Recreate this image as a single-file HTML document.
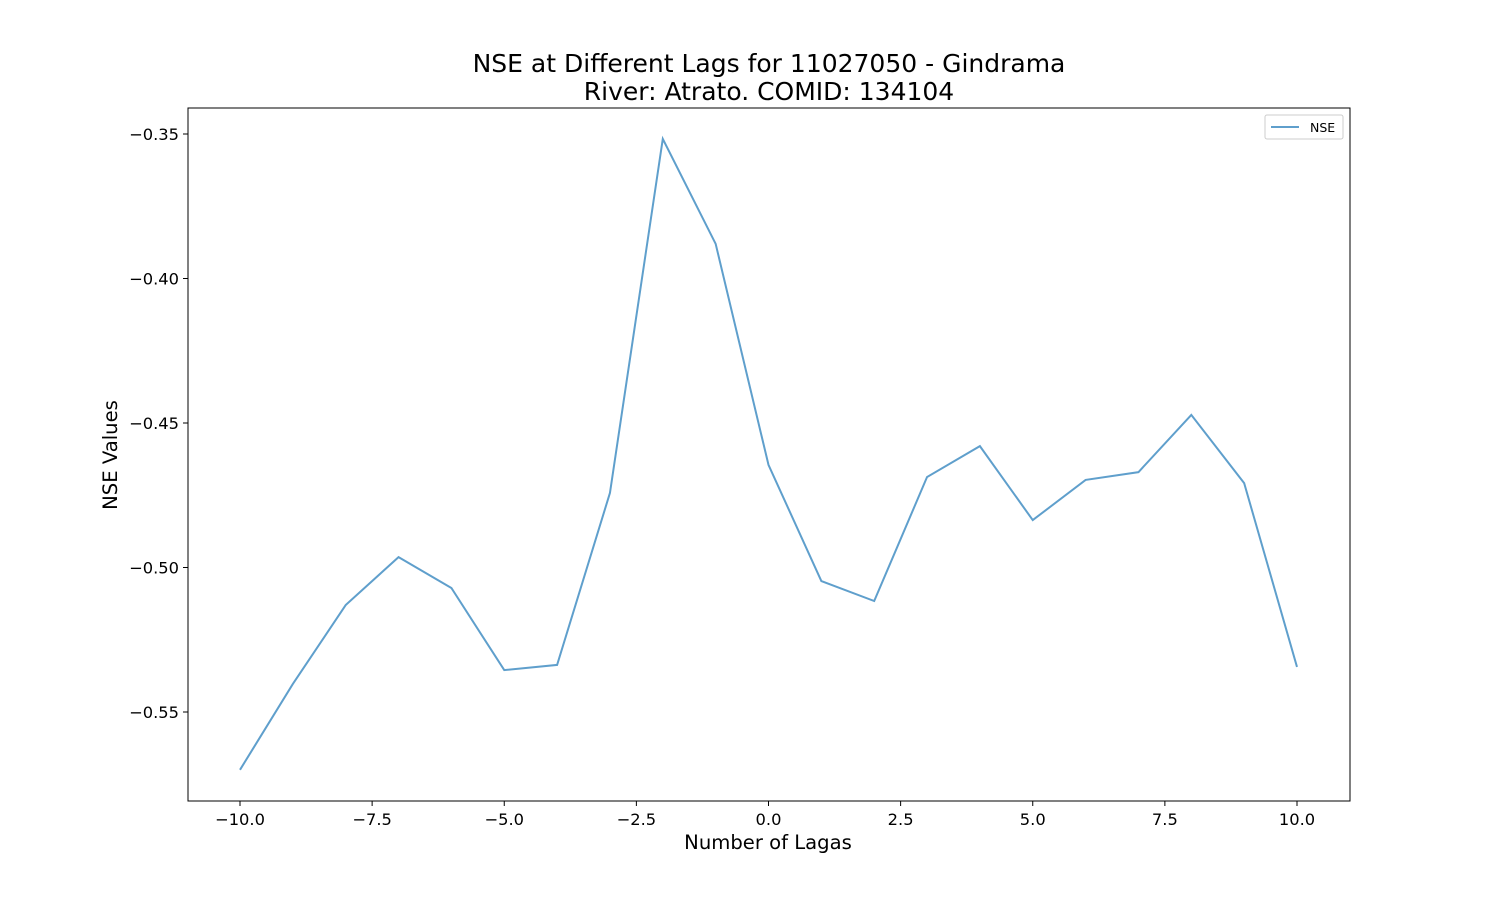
<!DOCTYPE html>
<html><head><meta charset="utf-8"><style>
body{margin:0;background:#fff;}
svg text{font-family:"DejaVu Sans","Liberation Sans",sans-serif;fill:#000;}
</style></head><body>
<svg id="chart" width="1500" height="900" xmlns="http://www.w3.org/2000/svg">
<rect width="1500" height="900" fill="#fff"/>
<text x="769" y="72" font-size="25" text-anchor="middle">NSE at Different Lags for 11027050 - Gindrama</text>
<text x="769" y="100" font-size="25" text-anchor="middle">River: Atrato. COMID: 134104</text>
<g id="plot"></g>
<text x="768" y="849" font-size="19.6" text-anchor="middle">Number of Lagas</text>
<text x="117" y="455" font-size="19.6" text-anchor="middle" transform="rotate(-90 117 455)">NSE Values</text>
<g>
<rect x="1265" y="115" width="78" height="24" fill="#fff" stroke="#ccc" rx="2"/>
<line x1="1271" y1="127" x2="1299" y2="127" stroke="#5f9fcc" stroke-width="2"/>
<text x="1310" y="132" font-size="12.5">NSE</text>
</g>
</svg>
<script>
const lags=[-10,-9,-8,-7,-6,-5,-4,-3,-2,-1,0,1,2,3,4,5,6,7,8,9,10];
const nse=[-0.570,-0.5403,-0.513,-0.4964,-0.5071,-0.5355,-0.5337,-0.4742,-0.3517,-0.388,-0.4645,-0.5047,-0.5116,-0.4687,-0.458,-0.4836,-0.4697,-0.467,-0.4472,-0.4708,-0.5344];
const xTicks=[-10,-7.5,-5,-2.5,0,2.5,5,7.5,10];
const xTickLabels=["\u221210.0","\u22127.5","\u22125.0","\u22122.5","0.0","2.5","5.0","7.5","10.0"];
const yTicks=[-0.35,-0.40,-0.45,-0.50,-0.55];
const yTickLabels=["\u22120.35","\u22120.40","\u22120.45","\u22120.50","\u22120.55"];
const L=188,R=1350,T=108,B=801;
const xs=v=>240+(v+10)*(1297-240)/20;
const ys=v=>134+(-0.35-v)*2890;
const NS="http://www.w3.org/2000/svg";
const g=document.getElementById('plot');
function mk(t,a){const e=document.createElementNS(NS,t);for(const k in a)e.setAttribute(k,a[k]);g.appendChild(e);return e;}
xTicks.forEach((v,i)=>{
 const l=mk('line',{x1:xs(v),x2:xs(v),y1:B,y2:B+5,stroke:'#000'});
 
 
 const t=mk('text',{x:xs(v),y:B+24,'font-size':16.3,'text-anchor':'middle'});t.textContent=xTickLabels[i];
 
 
});
yTicks.forEach((v,i)=>{
 const l=mk('line',{x1:L-5,x2:L,y1:ys(v),y2:ys(v),stroke:'#000'});
 
 
 const t=mk('text',{x:L-9,y:ys(v)+6,'font-size':16.3,'text-anchor':'end'});t.textContent=yTickLabels[i];
 
 
});
const p=mk('polyline',{points:lags.map((v,i)=>xs(v)+','+ys(nse[i])).join(' '),fill:'none',stroke:'#5f9fcc','stroke-width':2});


const f=mk('rect',{x:L,y:T,width:R-L,height:B-T,fill:'none',stroke:'#000','stroke-width':1});


</script>
</body></html>
